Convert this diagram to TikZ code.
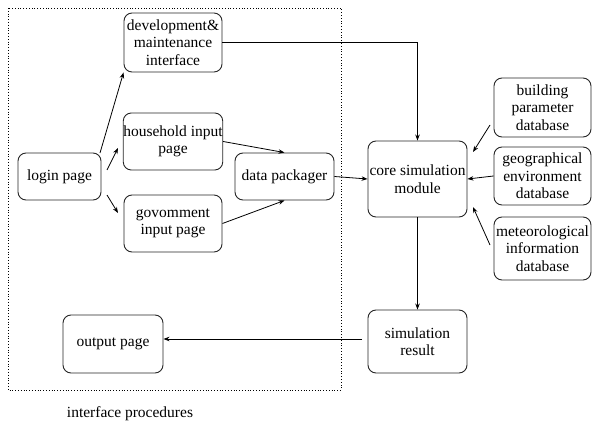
\documentclass[tikz,border=0pt]{standalone}
\usepackage{fontspec}
\setmainfont{Liberation Serif}
\newfontfamily\diagfont{Liberation Serif}
\usetikzlibrary{arrows.meta}
\begin{document}
\begin{tikzpicture}[x=1pt,y=-1pt,
  box/.style={draw=black!85, line width=0.9pt, rounded corners=8pt, align=center, inner sep=0pt,
    font=\diagfont\fontsize{15.5}{17.5}\selectfont},
  arr/.style={-{Stealth[length=6pt,width=4.5pt]}, line width=0.8pt},
  lbl/.style={font=\diagfont\fontsize{15.5}{17.5}\selectfont}]
\useasboundingbox (0,0) rectangle (592,425);
\draw[dotted, line width=0.8pt] (8,8) rectangle (341,390);
% nodes
\node[box, minimum width=98pt, minimum height=59pt] (dev) at (173,42.5) {development\&\\maintenance\\interface};
\node[box, minimum width=98pt, minimum height=57pt] (house) at (173,141.5) {household input\\page};
\node[box, minimum width=83pt, minimum height=47pt] (login) at (59.5,176.5) {login page};
\node[box, minimum width=98pt, minimum height=57pt] (gov) at (173,223.5) {govomment\\input page};
\node[box, minimum width=99pt, minimum height=47pt] (pack) at (284.5,176.5) {data packager};
\node[box, minimum width=99pt, minimum height=76pt] (core) at (417.5,179) {core simulation\\module};
\node[box, minimum width=97pt, minimum height=59pt] (build) at (542.5,107.5) {building\\parameter\\database};
\node[box, minimum width=97pt, minimum height=58pt] (geo) at (542.5,176) {geographical\\environment\\database};
\node[box, minimum width=97pt, minimum height=63pt] (met) at (542.5,248.5) {meteorological\\information\\database};
\node[box, minimum width=99pt, minimum height=63pt] (res) at (417.5,341.5) {simulation\\result};
\node[box, minimum width=100pt, minimum height=58pt] (out) at (113,344) {output page};
\node[lbl] (cap) at (130,414) {interface procedures};
% coordinates for free ends
\coordinate (l1) at (100,153);
\coordinate (l2) at (107,170);
\coordinate (l2e) at (118,148);
\coordinate (l3) at (107,195);
\coordinate (l3e) at (118,213);
\coordinate (b1) at (490,125);
\coordinate (b1e) at (473,152);
\coordinate (m1) at (490,245);
\coordinate (m1e) at (473,207);
\coordinate (r1) at (362,339);
% connectors
\draw[arr] (l1) -- (dev.south west);
\draw[arr] (l2) -- (l2e);
\draw[arr] (l3) -- (l3e);
\draw[arr] (dev.east) -- (dev.east -| core.north) -- (core.north);
\draw[arr] (house.east) -- (pack.north);
\draw[arr] (gov.east) -- (pack.south);
\draw[arr] (pack.east) -- (core.west);
\draw[arr] (b1) -- (b1e);
\draw[arr] (geo.west) -- (core.east);
\draw[arr] (m1) -- (m1e);
\draw[arr] (core.south) -- (res.north);
\draw[arr] (r1) -- (out.east |- r1);
\end{tikzpicture}
\end{document}
